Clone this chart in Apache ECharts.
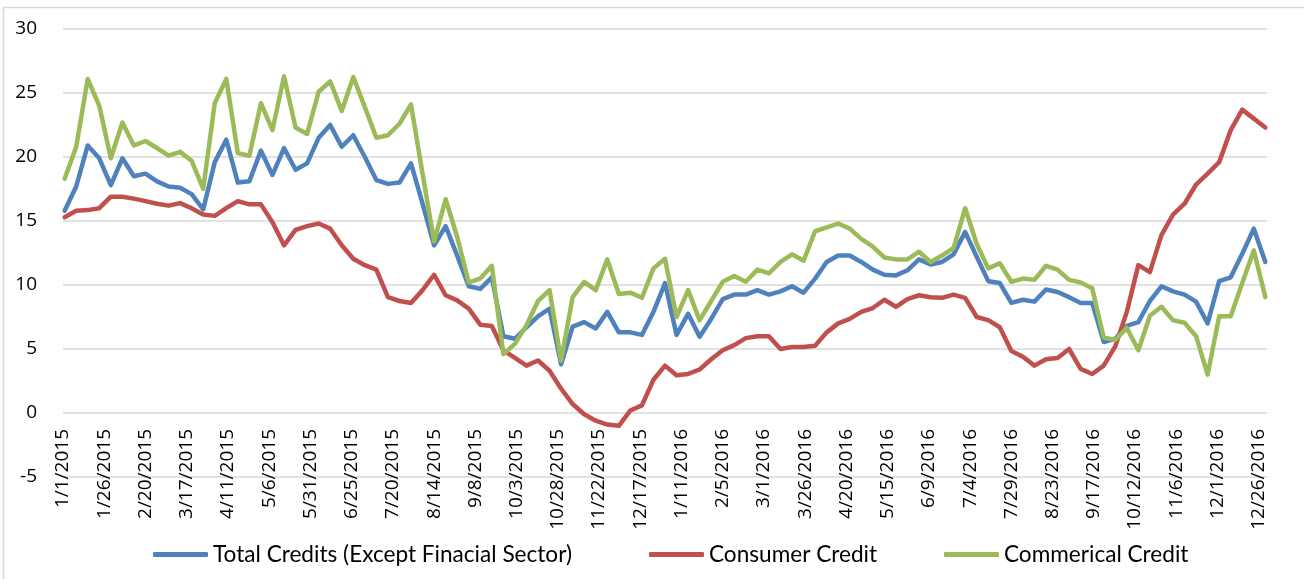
<!DOCTYPE html>
<html>
<head>
<meta charset="utf-8">
<title>Credit growth</title>
<script src="https://cdn.jsdelivr.net/npm/echarts@6/dist/echarts.min.js"></script>
<style>
  html, body { margin: 0; padding: 0; background: #ffffff; }
  #chart { width: 1304px; height: 579px; }
</style>
</head>
<body>
<div id="chart"></div>
<script>
// Weekly observations (Fridays), 2 Jan 2015 .. 30 Dec 2016
const firstObservation = '2015-01-02';
const observationCount = 105;

// Date-axis tick labels, one every 25 days starting 1 Jan 2015
const xTickLabels = [
  '1/1/2015', '1/26/2015', '2/20/2015', '3/17/2015', '4/11/2015', '5/6/2015',
  '5/31/2015', '6/25/2015', '7/20/2015', '8/14/2015', '9/8/2015', '10/3/2015',
  '10/28/2015', '11/22/2015', '12/17/2015', '1/11/2016', '2/5/2016', '3/1/2016',
  '3/26/2016', '4/20/2016', '5/15/2016', '6/9/2016', '7/4/2016', '7/29/2016',
  '8/23/2016', '9/17/2016', '10/12/2016', '11/6/2016', '12/1/2016', '12/26/2016'
];
const yTickLabels = ['-5', '0', '5', '10', '15', '20', '25', '30'];

const seriesNames = [
  'Total Credits (Except Finacial Sector)',
  'Consumer Credit',
  'Commerical Credit'
];

// Annual growth rates, %
const totalCredits = [
  15.8, 17.7, 20.9, 19.9, 17.8, 19.9, 18.5, 18.7, 18.1, 17.7,
  17.6, 17.1, 15.9, 19.6, 21.35, 18.0, 18.1, 20.5, 18.6, 20.7,
  19.0, 19.5, 21.5, 22.5, 20.8, 21.7, 20.0, 18.2, 17.9, 18.0,
  19.5, 16.35, 13.1, 14.6, 12.3, 9.9, 9.7, 10.6, 6.0, 5.8,
  6.7, 7.55, 8.15, 3.8, 6.75, 7.1, 6.6, 7.9, 6.3, 6.3,
  6.1, 7.9, 10.15, 6.1, 7.75, 5.95, 7.35, 8.9, 9.25, 9.25,
  9.6, 9.25, 9.5, 9.9, 9.4, 10.5, 11.8, 12.3, 12.3, 11.8,
  11.2, 10.8, 10.75, 11.15, 12.0, 11.6, 11.8, 12.4, 14.15, 12.2,
  10.3, 10.15, 8.6, 8.85, 8.7, 9.65, 9.45, 9.05, 8.6, 8.6,
  5.55, 5.8, 6.8, 7.1, 8.75, 9.9, 9.5, 9.25, 8.7, 7.0,
  10.3, 10.6, 12.45, 14.4, 11.8
];
const consumerCredit = [
  15.3, 15.8, 15.85, 16.0, 16.9, 16.9, 16.75, 16.55, 16.35, 16.2,
  16.4, 16.0, 15.5, 15.4, 16.0, 16.55, 16.3, 16.3, 14.9, 13.1,
  14.3, 14.6, 14.8, 14.4, 13.1, 12.05, 11.55, 11.2, 9.05, 8.75,
  8.6, 9.6, 10.8, 9.2, 8.8, 8.15, 6.9, 6.8, 4.9, 4.3,
  3.7, 4.1, 3.3, 1.9, 0.7, -0.1, -0.6, -0.9, -1.0, 0.2,
  0.6, 2.6, 3.7, 2.95, 3.05, 3.4, 4.2, 4.9, 5.3, 5.85,
  6.0, 6.0, 5.0, 5.15, 5.15, 5.25, 6.3, 7.0, 7.35, 7.9,
  8.2, 8.85, 8.3, 8.9, 9.2, 9.05, 9.0, 9.25, 9.0, 7.5,
  7.25, 6.7, 4.85, 4.4, 3.7, 4.2, 4.3, 5.0, 3.45, 3.05,
  3.7, 5.2, 7.9, 11.55, 11.0, 13.9, 15.5, 16.35, 17.85, 18.7,
  19.6, 22.1, 23.7, 23.0, 22.3
];
const commercialCredit = [
  18.3, 20.8, 26.1, 24.0, 19.9, 22.7, 20.9, 21.25, 20.7, 20.1,
  20.4, 19.7, 17.5, 24.2, 26.1, 20.3, 20.1, 24.2, 22.1, 26.3,
  22.3, 21.8, 25.1, 25.9, 23.6, 26.25, 23.9, 21.5, 21.7, 22.6,
  24.1, 18.7, 13.4, 16.7, 13.75, 10.2, 10.5, 11.5, 4.6, 5.4,
  6.85, 8.75, 9.6, 4.1, 9.05, 10.25, 9.6, 12.0, 9.3, 9.4,
  9.0, 11.3, 12.05, 7.5, 9.6, 7.25, 8.75, 10.25, 10.7, 10.25,
  11.2, 10.9, 11.8, 12.4, 11.9, 14.2, 14.5, 14.8, 14.4, 13.6,
  13.0, 12.15, 12.0, 12.0, 12.6, 11.8, 12.3, 12.9, 16.0, 13.2,
  11.3, 11.7, 10.25, 10.5, 10.4, 11.5, 11.2, 10.4, 10.2, 9.75,
  5.9, 5.7, 6.65, 4.9, 7.6, 8.3, 7.25, 7.05, 6.0, 3.0,
  7.55, 7.55, 10.15, 12.7, 9.05
];

const seriesColors = ['#4f81bd', '#c0504d', '#9bbb59'];

// Position each weekly observation on a day-based axis (days since 1 Jan 2015)
const DAY_MS = 86400000;
const axisStart = Date.UTC(2015, 0, 1);
const firstMs = Date.parse(firstObservation + 'T00:00:00Z');
const dayOffsets = [];
for (let i = 0; i < observationCount; i++) {
  dayOffsets.push((firstMs + i * 7 * DAY_MS - axisStart) / DAY_MS);
}
const pair = values => values.map((v, i) => [dayOffsets[i], v]);

const axisFont = 'Open Sans';
const legendFont = 'Lato';
const gridColor = '#d9d9d9';

// Plot geometry: the date labels hang just under the zero line,
// which sits one 5-point band above the bottom of the plot.
const plotTop = 29;
const plotBottom = 477;
const bandPx = (plotBottom - plotTop) / 7;
const labelGapBelowZero = 16;

const chart = echarts.init(document.getElementById('chart'), null, { renderer: 'canvas' });

const lineSeries = [totalCredits, consumerCredit, commercialCredit].map((values, k) => ({
  name: seriesNames[k],
  type: 'line',
  data: pair(values),
  symbol: 'none',
  smooth: false,
  color: seriesColors[k],
  lineStyle: { width: 4.5, color: seriesColors[k], cap: 'round', join: 'round' },
  emphasis: { disabled: true },
  z: 2 + k
}));

const legendAt = (name, left) => ({
  data: [name],
  left: left,
  top: 538,
  icon: 'roundRect',
  itemWidth: 55,
  itemHeight: 5,
  selectedMode: false,
  textStyle: { fontFamily: legendFont, fontSize: 22.6, color: '#000000' }
});

chart.setOption({
  animation: false,
  backgroundColor: '#ffffff',
  grid: {
    left: 63, right: 37, top: plotTop, bottom: 579 - plotBottom,
    containLabel: false,
    outerBoundsMode: 'none'
  },
  xAxis: {
    type: 'value',
    position: 'bottom',
    min: 0,
    max: 730,
    interval: 25,
    axisLine: { show: false, onZero: false },
    axisTick: { show: false },
    splitLine: { show: false },
    axisLabel: {
      rotate: 90,
      margin: labelGapBelowZero - bandPx,
      fontFamily: axisFont,
      fontSize: 19,
      color: '#000000',
      showMaxLabel: false,
      formatter: v => (v % 25 === 0 && xTickLabels[v / 25]) ? xTickLabels[v / 25] : ''
    }
  },
  yAxis: {
    type: 'value',
    min: -5,
    max: 30,
    interval: 5,
    axisLine: { show: false },
    axisTick: { show: false },
    splitLine: { show: true, lineStyle: { color: gridColor, width: 1.5 } },
    axisLabel: {
      margin: 26,
      fontFamily: axisFont,
      fontSize: 19,
      color: '#000000',
      formatter: v => yTickLabels[(v + 5) / 5]
    }
  },
  legend: [
    legendAt(seriesNames[0], 148),
    legendAt(seriesNames[1], 644),
    legendAt(seriesNames[2], 939)
  ],
  graphic: [{
    type: 'rect',
    silent: true,
    shape: { x: 3.5, y: 7.5, width: 1400, height: 700 },
    style: { fill: 'none', stroke: '#d9d9d9', lineWidth: 1.5 },
    z: -1
  }],
  series: lineSeries
});
</script>
</body>
</html>
